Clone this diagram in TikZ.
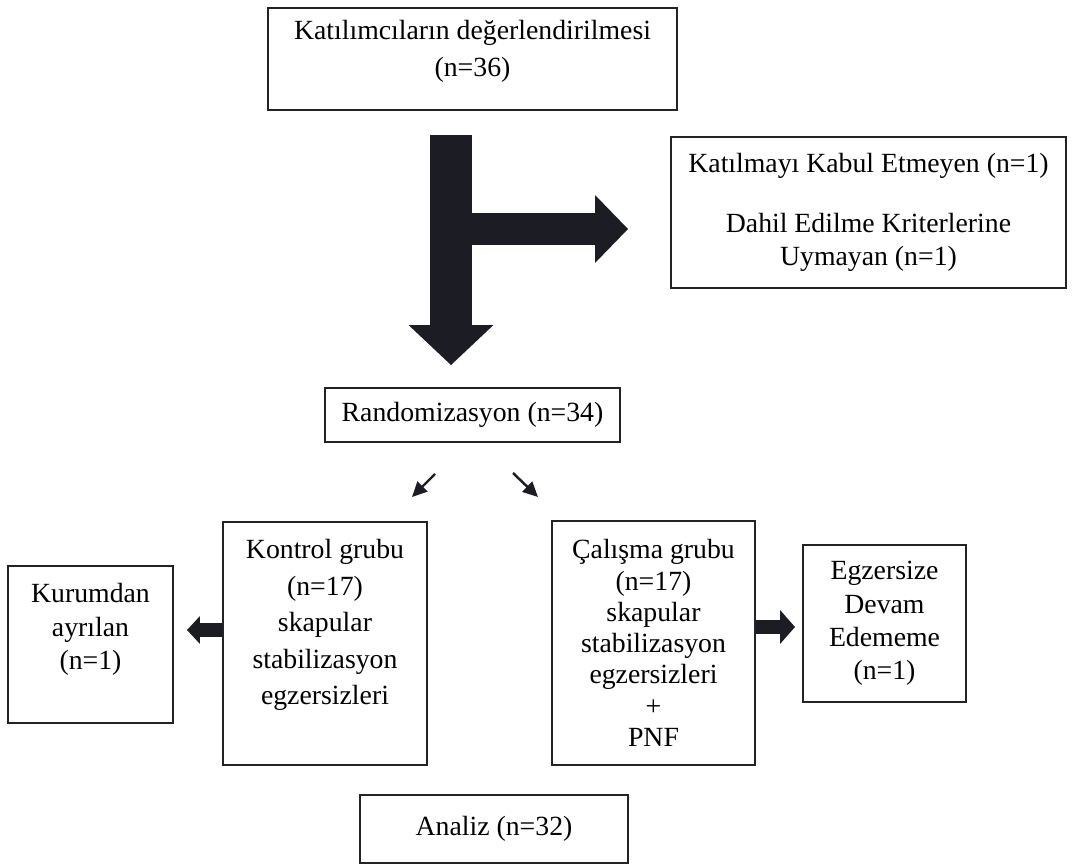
\documentclass[tikz,border=0pt]{standalone}
\usepackage{fontspec}
\setmainfont{Liberation Serif}
\usetikzlibrary{arrows.meta}
\definecolor{arrowfill}{RGB}{28,29,36}
\definecolor{boxline}{RGB}{35,35,35}

\begin{document}
\begin{tikzpicture}[x=0.02cm,y=-0.02cm,
    box/.style={draw=boxline,line width=1.1pt,align=center,inner sep=0pt,
      font=\fontsize{15.8}{19}\selectfont},
    blockarrow/.style n args={3}{arrowfill,line width=#1,
      -{Triangle[length=#2,width=#3,line width=0pt]}},
    pointer/.style={arrowfill,line width=1.4pt,
      -{Triangle[length=0.3cm,width=0.28cm]}}]
  \useasboundingbox (0,0) rectangle (1080,865);
  % boxes
  \node[box,minimum width=8.18cm,minimum height=2.04cm,text depth=0.44cm,
        font=\fontsize{15.8}{21}\selectfont] (eval) at (472.5,59)
        {Katılımcıların değerlendirilmesi\\(n=36)};
  \node[box,minimum width=7.9cm,minimum height=3.02cm] (excl) at (868.5,212.5)
        {Katılmayı Kabul Etmeyen (n=1)\\[15pt]Dahil Edilme Kriterlerine\\Uymayan (n=1)};
  \node[box,minimum width=5.9cm,minimum height=1.08cm] (rand) at (472.5,415)
        {Randomizasyon (n=34)};
  \node[box,minimum width=4.08cm,minimum height=4.86cm,text depth=0.86cm,
        font=\fontsize{15.8}{20.7}\selectfont] (ctrl) at (325,643.5)
        {Kontrol grubu\\(n=17)\\skapular\\stabilizasyon\\egzersizleri};
  \node[box,minimum width=3.3cm,minimum height=3.14cm,text depth=0.72cm] (left) at (90.5,644.5)
        {Kurumdan\\ayrılan\\(n=1)};
  \node[box,minimum width=4.06cm,minimum height=4.88cm,
        font=\fontsize{15.8}{17.8}\selectfont] (study) at (653.5,643)
        {Çalışma grubu\\(n=17)\\skapular\\stabilizasyon\\egzersizleri\\+\\PNF};
  \node[box,minimum width=3.26cm,minimum height=3.14cm] (drop) at (884.5,623.5)
        {Egzersize\\Devam\\Edememe\\(n=1)};
  \node[box,minimum width=5.36cm,minimum height=1.36cm] (anal) at (494,829)
        {Analiz (n=32)};
  % arrows
  \coordinate (split) at (451,135);
  \coordinate (down) at (451,365);
  \coordinate (side) at (628,229);
  \draw[blockarrow={0.84cm}{0.8cm}{1.7cm}] (split) -- (down);
  \draw[blockarrow={0.66cm}{0.66cm}{1.36cm}] (split |- side) -- (side);
  \coordinate (la1) at (435,474);
  \coordinate (la2) at (412,497);
  \coordinate (ra1) at (513,473);
  \coordinate (ra2) at (538,497);
  \draw[pointer] (la1) -- (la2);
  \draw[pointer] (ra1) -- (ra2);
  \coordinate (kout) at (187,630);
  \coordinate (sout) at (795,627);
  \draw[blockarrow={0.28cm}{0.26cm}{0.56cm}] (ctrl.west |- kout) -- (kout);
  \draw[blockarrow={0.3cm}{0.3cm}{0.68cm}] (study.east |- sout) -- (sout);
\end{tikzpicture}
\end{document}
